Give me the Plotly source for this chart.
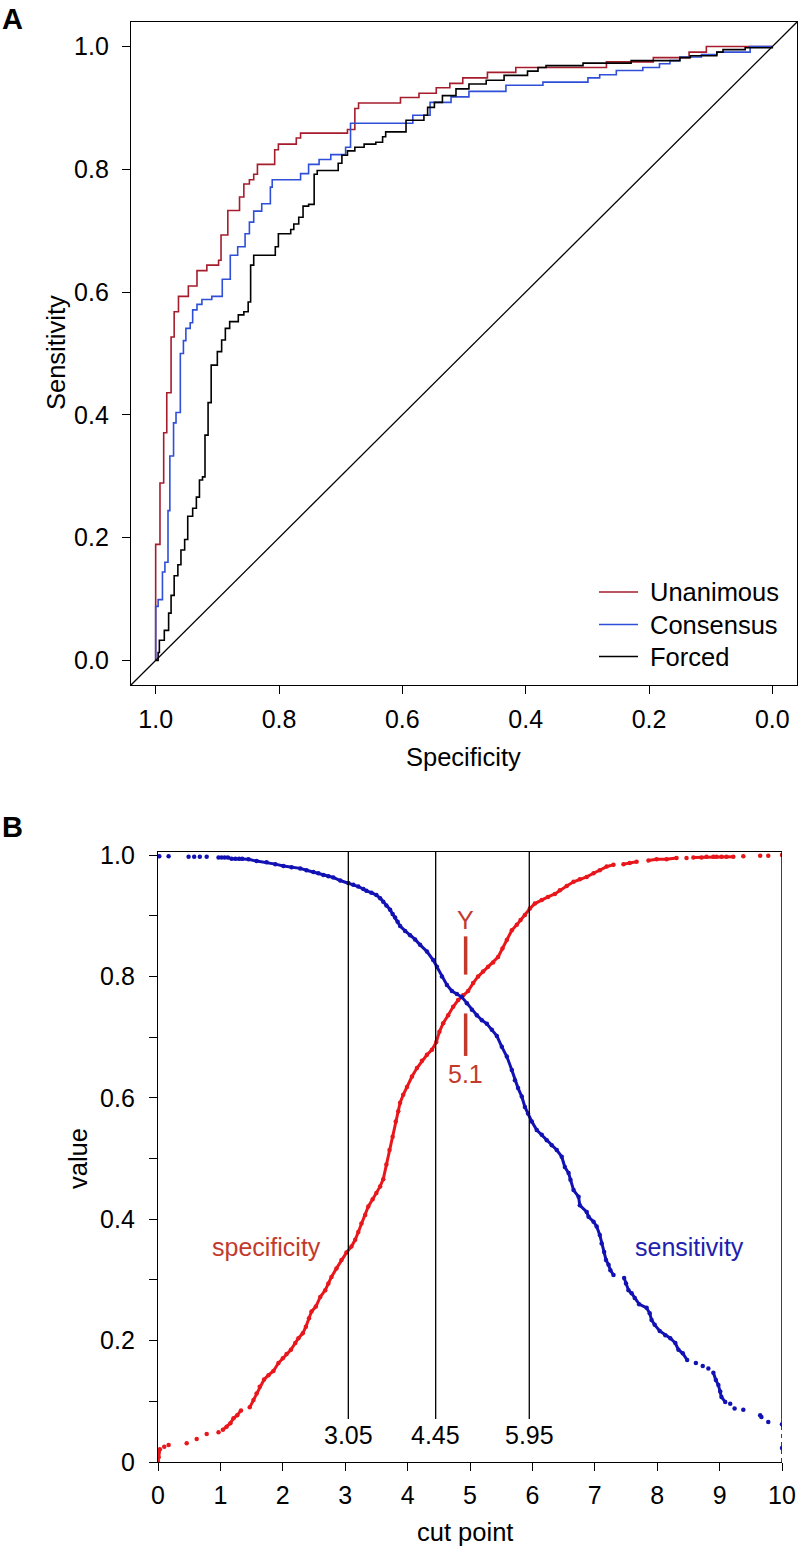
import plotly.graph_objects as go

W, H = 799, 1546
FONT = "Liberation Sans, Arial, Helvetica, sans-serif"

# ---------------- Panel A: ROC curves (specificity, sensitivity) step corners ----------------
unanimous = [(1.0, 0.0), (1.0, 0.189), (0.993, 0.289), (0.987, 0.371), (0.982, 0.436), (0.975, 0.527),
             (0.970, 0.568), (0.963, 0.593), (0.947, 0.610), (0.933, 0.635), (0.917, 0.644), (0.898, 0.652),
             (0.894, 0.693), (0.883, 0.733), (0.864, 0.755), (0.857, 0.776), (0.848, 0.783), (0.841, 0.792),
             (0.835, 0.808), (0.807, 0.832), (0.801, 0.841), (0.772, 0.851), (0.765, 0.859), (0.689, 0.865),
             (0.677, 0.899), (0.671, 0.908), (0.603, 0.917), (0.573, 0.924), (0.545, 0.933), (0.523, 0.940),
             (0.502, 0.949), (0.462, 0.958), (0.416, 0.966), (0.269, 0.975), (0.193, 0.982), (0.135, 0.991),
             (0.107, 1.0), (0.0, 1.0)]
consensus = [(1.0, 0.0), (1.0, 0.088), (0.996, 0.099), (0.989, 0.144), (0.985, 0.160), (0.980, 0.244),
             (0.977, 0.333), (0.971, 0.387), (0.967, 0.404), (0.960, 0.500), (0.955, 0.521), (0.951, 0.541),
             (0.944, 0.550), (0.940, 0.571), (0.933, 0.580), (0.925, 0.588), (0.909, 0.593), (0.892, 0.621),
             (0.879, 0.660), (0.867, 0.674), (0.855, 0.695), (0.848, 0.714), (0.841, 0.732), (0.828, 0.744),
             (0.814, 0.771), (0.811, 0.783), (0.765, 0.793), (0.752, 0.808), (0.735, 0.816), (0.716, 0.824),
             (0.692, 0.836), (0.684, 0.875), (0.583, 0.888), (0.555, 0.909), (0.521, 0.918), (0.492, 0.927),
             (0.432, 0.937), (0.372, 0.942), (0.299, 0.949), (0.280, 0.954), (0.253, 0.961), (0.210, 0.966),
             (0.183, 0.972), (0.166, 0.977), (0.150, 0.983), (0.115, 0.987), (0.090, 0.991), (0.036, 1.0),
             (0.0, 1.0)]
forced = [(1.0, 0.0), (0.996, 0.013), (0.994, 0.033), (0.986, 0.049), (0.979, 0.077), (0.975, 0.106),
          (0.970, 0.138), (0.964, 0.156), (0.959, 0.180), (0.953, 0.197), (0.948, 0.235), (0.940, 0.248),
          (0.934, 0.266), (0.929, 0.294), (0.924, 0.299), (0.920, 0.367), (0.915, 0.420), (0.910, 0.481),
          (0.900, 0.503), (0.893, 0.522), (0.887, 0.541), (0.880, 0.552), (0.866, 0.563), (0.857, 0.568),
          (0.850, 0.584), (0.846, 0.644), (0.841, 0.660), (0.806, 0.674), (0.801, 0.695), (0.781, 0.702),
          (0.776, 0.711), (0.768, 0.722), (0.761, 0.740), (0.752, 0.743), (0.743, 0.792), (0.738, 0.798),
          (0.704, 0.810), (0.698, 0.823), (0.689, 0.830), (0.677, 0.836), (0.662, 0.841), (0.643, 0.844),
          (0.632, 0.853), (0.627, 0.861), (0.594, 0.880), (0.565, 0.888), (0.559, 0.901), (0.548, 0.909),
          (0.535, 0.920), (0.513, 0.931), (0.492, 0.939), (0.464, 0.945), (0.435, 0.953), (0.397, 0.960),
          (0.380, 0.966), (0.367, 0.969), (0.307, 0.973), (0.229, 0.977), (0.150, 0.982), (0.133, 0.985),
          (0.090, 0.991), (0.080, 0.995), (0.044, 0.998), (0.0, 1.0)]
roc_names = ["Unanimous", "Consensus", "Forced"]
roc_colors = ["#a51d2d", "#2f4fd8", "#000000"]
roc_ticks = [1.0, 0.8, 0.6, 0.4, 0.2, 0.0]
roc_ticklabels = ["1.0", "0.8", "0.6", "0.4", "0.2", "0.0"]
roc_range = [-0.04, 1.04]

# ---------------- Panel B: cut point scan (None = gap between dot runs) ----------------
specificity_pts = [
    (0.0, 0.0), (0.01, 0.008), (0.03, 0.021), None, (0.10, 0.025), None, (0.17, 0.028), None,
    (0.46, 0.031), None, (0.62, 0.038), None, (0.78, 0.046), None, (0.97, 0.049), None,
    (1.04, 0.053), (1.10, 0.058), (1.16, 0.064), (1.21, 0.072), (1.27, 0.077), (1.33, 0.085), None,
    (1.47, 0.090), (1.53, 0.102), (1.58, 0.113), (1.63, 0.124), (1.70, 0.136), (1.77, 0.143),
    (1.85, 0.150), (1.93, 0.163), (2.00, 0.171), (2.06, 0.178), (2.13, 0.185), (2.20, 0.196),
    (2.25, 0.204), (2.32, 0.212), (2.37, 0.223), (2.42, 0.237), (2.46, 0.248), (2.53, 0.256),
    (2.60, 0.272), (2.68, 0.283), (2.73, 0.294), (2.78, 0.305), (2.86, 0.319), (2.94, 0.333),
    (3.02, 0.345), (3.10, 0.355), (3.16, 0.366), (3.21, 0.379), (3.26, 0.393), (3.32, 0.407),
    (3.37, 0.421), (3.44, 0.433), (3.50, 0.443), (3.56, 0.454), (3.61, 0.466), (3.66, 0.490),
    (3.71, 0.514), (3.76, 0.536), (3.81, 0.561), (3.85, 0.578), (3.88, 0.592), (3.93, 0.605),
    (3.99, 0.618), (4.07, 0.635), (4.15, 0.649), (4.23, 0.661), (4.31, 0.671), (4.39, 0.679),
    (4.46, 0.692), (4.51, 0.709), (4.57, 0.723), (4.65, 0.736), (4.73, 0.750), (4.81, 0.761),
    (4.89, 0.769), (4.97, 0.776), (5.05, 0.789), (5.13, 0.800), (5.21, 0.808), (5.29, 0.816),
    (5.37, 0.823), (5.45, 0.832), (5.52, 0.846), (5.59, 0.860), (5.67, 0.876), (5.75, 0.885),
    (5.81, 0.893), (5.88, 0.901), (5.96, 0.912), (6.04, 0.920), (6.15, 0.926), (6.25, 0.931),
    (6.36, 0.936), (6.44, 0.942), (6.55, 0.949), (6.66, 0.956), (6.76, 0.960), (6.87, 0.964),
    (6.98, 0.970), (7.08, 0.975), (7.19, 0.981), (7.30, 0.984), None,
    (7.46, 0.985), (7.56, 0.987), (7.67, 0.989), None, (7.86, 0.991), (7.99, 0.993), (8.15, 0.993),
    (8.31, 0.995), None, (8.47, 0.995), None, (8.58, 0.996), (8.71, 0.996), (8.79, 0.997),
    (8.90, 0.997), (8.95, 0.997), (9.03, 0.997), (9.11, 0.997), (9.22, 0.997), None,
    (9.38, 0.998), None, (9.65, 0.999), None, (9.78, 0.999), None, (10.0, 1.0)]

sensitivity_pts = [
    (0.02, 0.998), None, (0.17, 0.998), None, (0.49, 0.997), None, (0.58, 0.997), None,
    (0.67, 0.997), None, (0.78, 0.997), None,
    (0.97, 0.996), (1.02, 0.996), (1.07, 0.996), (1.12, 0.996), (1.18, 0.994), (1.24, 0.994),
    (1.30, 0.994), (1.35, 0.994), (1.45, 0.993), (1.58, 0.990), (1.74, 0.988), (1.88, 0.985),
    (2.01, 0.982), (2.14, 0.980), (2.28, 0.978), (2.38, 0.975), (2.49, 0.972), (2.57, 0.970),
    (2.65, 0.967), (2.73, 0.965), (2.81, 0.963), (2.92, 0.958), (3.05, 0.954), (3.13, 0.951),
    (3.21, 0.948), (3.29, 0.944), (3.34, 0.941), (3.42, 0.938), (3.50, 0.934), (3.56, 0.929),
    (3.61, 0.923), (3.66, 0.917), (3.72, 0.910), (3.76, 0.903), (3.80, 0.897), (3.84, 0.890),
    (3.88, 0.883), (3.96, 0.875), (4.04, 0.868), (4.12, 0.861), (4.20, 0.852), (4.31, 0.841),
    (4.41, 0.827), (4.47, 0.816), (4.55, 0.800), (4.63, 0.786), (4.71, 0.776), (4.79, 0.771),
    (4.87, 0.766), (4.95, 0.756), (5.03, 0.745), (5.11, 0.736), (5.19, 0.728), (5.27, 0.722),
    (5.35, 0.712), (5.43, 0.702), (5.51, 0.684), (5.59, 0.668), (5.67, 0.646), (5.72, 0.629),
    (5.77, 0.616), (5.83, 0.602), (5.88, 0.585), (5.93, 0.574), (5.99, 0.561), (6.07, 0.547),
    (6.15, 0.539), (6.23, 0.530), (6.31, 0.522), (6.39, 0.514), (6.47, 0.503), (6.52, 0.486),
    (6.58, 0.476), (6.61, 0.465), (6.66, 0.448), (6.74, 0.437), (6.76, 0.423), (6.87, 0.412),
    (6.90, 0.404), (6.98, 0.396), (7.03, 0.388), (7.08, 0.374), (7.11, 0.360), (7.15, 0.346),
    (7.18, 0.333), (7.22, 0.325), (7.25, 0.316), (7.30, 0.308), None,
    (7.47, 0.303), (7.50, 0.294), (7.54, 0.283), (7.59, 0.278), (7.64, 0.270), (7.71, 0.260),
    (7.83, 0.254), (7.88, 0.245), (7.91, 0.234), (7.96, 0.226), (8.04, 0.216), (8.13, 0.209),
    (8.21, 0.204), (8.29, 0.196), (8.34, 0.185), (8.41, 0.179), (8.48, 0.168), None,
    (8.62, 0.163), None, (8.73, 0.158), None, (8.82, 0.154), None,
    (8.90, 0.147), (8.94, 0.135), (8.98, 0.127), (9.01, 0.116), (9.03, 0.107), (9.09, 0.099), None,
    (9.17, 0.096), None, (9.24, 0.088), None, (9.38, 0.086), None, (9.65, 0.077), (9.67, 0.074), None,
    (9.78, 0.066), None, (10.0, 0.062), None, (10.0, 0.023)]

cut_points = [3.05, 4.45, 5.95]
cut_labels = ["3.05", "4.45", "5.95"]
youden_x = 4.93
youden_label_top = "Y"
youden_label_bottom = "5.1"
b_xticks = list(range(0, 11))
b_yticks = [0, 0.1, 0.2, 0.3, 0.4, 0.5, 0.6, 0.7, 0.8, 0.9, 1.0]
b_yticklabels = ["0", "", "0.2", "", "0.4", "", "0.6", "", "0.8", "", "1.0"]

SPEC_COLOR = "#e8171c"
SENS_COLOR = "#1212b4"
SPEC_TEXT = "#c33a2c"
SENS_TEXT = "#2121ae"


def px_x(p):
    return p / W


def px_y(p):
    return 1 - p / H


def split(points):
    xs = [p[0] if p is not None else None for p in points]
    ys = [p[1] if p is not None else None for p in points]
    return xs, ys


fig = go.Figure()

# Panel A
for name, color, pts in zip(roc_names, roc_colors, [unanimous, consensus, forced]):
    xs, ys = split(pts)
    fig.add_trace(go.Scatter(x=xs, y=ys, mode="lines", name=name, showlegend=False,
                             line=dict(color=color, width=1.6, shape="hv"),
                             xaxis="x", yaxis="y"))
# chance diagonal across the plotting region
fig.add_trace(go.Scatter(x=[roc_range[1], roc_range[0]], y=[roc_range[0], roc_range[1]],
                         mode="lines", line=dict(color="black", width=1.3),
                         showlegend=False, hoverinfo="skip", xaxis="x", yaxis="y"))

# Panel B
for pts, color, nm in [(specificity_pts, SPEC_COLOR, "specificity"), (sensitivity_pts, SENS_COLOR, "sensitivity")]:
    xs, ys = split(pts)
    fig.add_trace(go.Scatter(x=xs, y=ys, mode="lines+markers", name=nm, showlegend=False,
                             line=dict(color=color, width=3), marker=dict(color=color, size=4.5),
                             connectgaps=False, xaxis="x2", yaxis="y2"))

shapes = []
ann = []

# legend of panel A (drawn in paper space)
legend_rows_px = [592, 624.5, 656.5]
for name, color, ypx in zip(roc_names, roc_colors, legend_rows_px):
    shapes.append(dict(type="line", xref="paper", yref="paper", x0=px_x(599), x1=px_x(638),
                       y0=px_y(ypx), y1=px_y(ypx), line=dict(color=color, width=1.6)))
    ann.append(dict(text=name, x=px_x(648), y=px_y(ypx), xref="paper", yref="paper", showarrow=False,
                    font=dict(size=25.5, color="black", family=FONT), xanchor="left", yanchor="middle"))

for c in cut_points:
    shapes.append(dict(type="line", xref="x2", yref="y2", x0=c, x1=c, y0=0.071, y1=1.005,
                       line=dict(color="black", width=1.3)))
# right frame at x = 10
shapes.append(dict(type="line", xref="x2", yref="y2", x0=10, x1=10, y0=0.07, y1=1.005,
                   line=dict(color="black", width=1.5)))
shapes.append(dict(type="line", xref="x2", yref="y2", x0=10, x1=10, y0=0.0, y1=0.07,
                   line=dict(color="black", width=1.5, dash="4px,4px")))
# Youden marker segments
shapes.append(dict(type="line", xref="x2", yref="y2", x0=youden_x, x1=youden_x, y0=0.803, y1=0.866,
                   line=dict(color=SPEC_TEXT, width=3.5)))
shapes.append(dict(type="line", xref="x2", yref="y2", x0=youden_x, x1=youden_x, y0=0.669, y1=0.739,
                   line=dict(color=SPEC_TEXT, width=3.5)))

ann.append(dict(text="<b>A</b>", x=px_x(12), y=px_y(19), xref="paper", yref="paper", showarrow=False,
                font=dict(size=29, color="black", family=FONT), xanchor="center", yanchor="middle"))
ann.append(dict(text="<b>B</b>", x=px_x(12), y=px_y(827), xref="paper", yref="paper", showarrow=False,
                font=dict(size=29, color="black", family=FONT), xanchor="center", yanchor="middle"))
ann.append(dict(text="Sensitivity", x=px_x(56), y=px_y(353), xref="paper", yref="paper", showarrow=False,
                textangle=-90, font=dict(size=25.5, color="black", family=FONT), xanchor="center", yanchor="middle"))
ann.append(dict(text="Specificity", x=px_x(464), y=px_y(757), xref="paper", yref="paper", showarrow=False,
                font=dict(size=25.5, color="black", family=FONT), xanchor="center", yanchor="middle"))
ann.append(dict(text="value", x=px_x(78), y=px_y(1159), xref="paper", yref="paper", showarrow=False,
                textangle=-90, font=dict(size=25.5, color="black", family=FONT), xanchor="center", yanchor="middle"))
ann.append(dict(text="cut point", x=px_x(465), y=px_y(1532), xref="paper", yref="paper", showarrow=False,
                font=dict(size=25.5, color="black", family=FONT), xanchor="center", yanchor="middle"))
for c, lab in zip(cut_points, cut_labels):
    ann.append(dict(text=lab, x=c, y=0.045, xref="x2", yref="y2", showarrow=False,
                    font=dict(size=25, color="black", family=FONT), xanchor="center", yanchor="middle"))
ann.append(dict(text="specificity", x=1.74, y=0.355, xref="x2", yref="y2", showarrow=False,
                font=dict(size=25, color=SPEC_TEXT, family=FONT), xanchor="center", yanchor="middle"))
ann.append(dict(text="sensitivity", x=8.52, y=0.355, xref="x2", yref="y2", showarrow=False,
                font=dict(size=25, color=SENS_TEXT, family=FONT), xanchor="center", yanchor="middle"))
ann.append(dict(text=youden_label_top, x=youden_x, y=0.893, xref="x2", yref="y2", showarrow=False,
                font=dict(size=25, color=SPEC_TEXT, family=FONT), xanchor="center", yanchor="middle"))
ann.append(dict(text=youden_label_bottom, x=youden_x, y=0.64, xref="x2", yref="y2", showarrow=False,
                font=dict(size=25, color=SPEC_TEXT, family=FONT), xanchor="center", yanchor="middle"))

axis_common = dict(showgrid=False, zeroline=False, showline=True, linecolor="black", linewidth=1.4,
                   ticks="outside", ticklen=8, tickwidth=1.3, tickcolor="black",
                   tickfont=dict(size=25, color="black", family=FONT), automargin=False)

fig.update_layout(
    width=W, height=H,
    margin=dict(l=0, r=0, t=0, b=0),
    paper_bgcolor="white", plot_bgcolor="white",
    font=dict(family=FONT, color="black"),
    xaxis=dict(domain=[px_x(131), px_x(797)], range=[roc_range[1], roc_range[0]], anchor="y",
               tickmode="array", tickvals=roc_ticks, ticktext=roc_ticklabels, mirror=True,
               ticklabelstandoff=4, **axis_common),
    yaxis=dict(domain=[px_y(685), px_y(22)], range=roc_range, anchor="x",
               tickmode="array", tickvals=roc_ticks, ticktext=roc_ticklabels, mirror=True,
               ticklabelstandoff=8, **axis_common),
    xaxis2=dict(domain=[px_x(158), px_x(782)], range=[0, 10], anchor="y2",
                tickmode="array", tickvals=b_xticks, ticktext=[str(v) for v in b_xticks], mirror=True,
                ticklabelstandoff=3, **axis_common),
    yaxis2=dict(domain=[px_y(1462), px_y(852)], range=[0, 1.005], anchor="x2",
                tickmode="array", tickvals=b_yticks, ticktext=b_yticklabels,
                ticklabelstandoff=9, **axis_common),
    showlegend=False,
    shapes=shapes, annotations=ann,
)

fig.write_html("out.html", config={"displayModeBar": False},
               post_script="document.body.style.margin='0';document.body.style.padding='0';"
                           "document.body.style.overflow='hidden';")
